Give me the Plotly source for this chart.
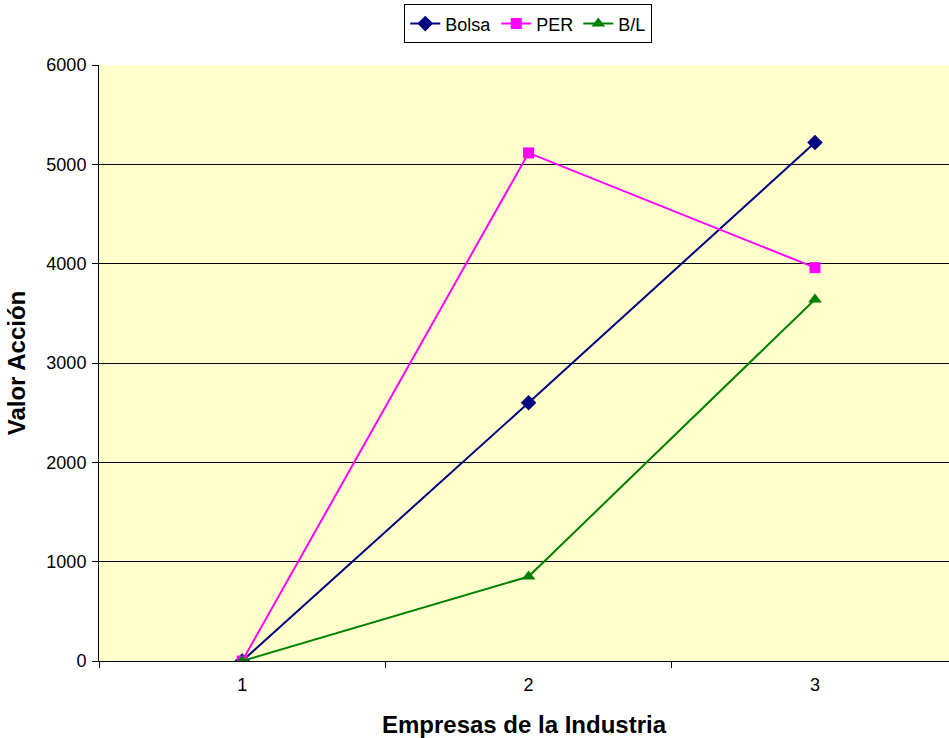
import plotly.graph_objects as go

categories = ["1", "2", "3"]
bolsa = [0, 2600, 5220]
per = [0, 5115, 3960]
bl = [0, 850, 3640]
y_ticks = [0, 1000, 2000, 3000, 4000, 5000, 6000]

fig = go.Figure()
fig.add_trace(go.Scatter(x=categories, y=bolsa, name="Bolsa", mode="lines+markers",
                         line=dict(color="#000080", width=2),
                         marker=dict(symbol="diamond", size=12, color="#000080")))
fig.add_trace(go.Scatter(x=categories, y=per, name="PER", mode="lines+markers",
                         line=dict(color="#FF00FF", width=2),
                         marker=dict(symbol="square", size=11, color="#FF00FF")))
fig.add_trace(go.Scatter(x=categories, y=bl, name="B/L", mode="lines+markers",
                         line=dict(color="#008000", width=2),
                         marker=dict(symbol="triangle-up", size=12, color="#008000")))

fig.update_layout(
    width=949, height=738,
    margin=dict(l=99, r=0, t=65, b=77, autoexpand=False),
    paper_bgcolor="white",
    plot_bgcolor="#FFFFCC",
    font=dict(family="Liberation Sans, Arial", size=18, color="black"),
    showlegend=True,
    legend=dict(orientation="h", x=0.505, xanchor="center", y=1.069, yanchor="middle",
                bordercolor="black", borderwidth=1, bgcolor="white",
                font=dict(size=18), itemwidth=30, tracegroupgap=0),
    xaxis=dict(type="category", range=[-0.5, 2.468], tickson="boundaries",
               ticks="outside", ticklen=6, tickcolor="black", ticklabelstandoff=7,
               showline=True, linecolor="black", linewidth=1, showgrid=False,
               zeroline=False,
               title=dict(text="<b>Empresas de la Industria</b>", font=dict(size=24), standoff=22)),
    yaxis=dict(range=[0, 6000], tickvals=y_ticks, ticks="outside", ticklen=6,
               tickcolor="black", showline=True, linecolor="black", linewidth=1,
               ticklabelstandoff=2,
               showgrid=True, gridcolor="black", gridwidth=1, zeroline=False,
               title=dict(text="<b>Valor Acción</b>", font=dict(size=24), standoff=13)),
)

fig.write_html("out.html", config={"displayModeBar": False},
               post_script="document.body.style.margin='0px';document.body.style.overflow='hidden';")
